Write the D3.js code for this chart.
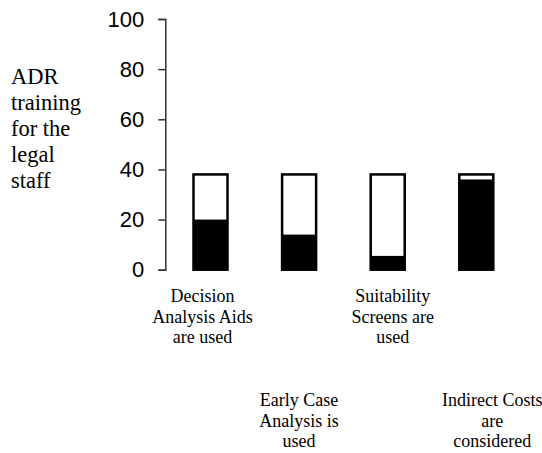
<!DOCTYPE html>
<html>
<head>
<meta charset="utf-8">
<script src="https://cdn.jsdelivr.net/npm/d3@7"></script>
<style>
  body { margin: 0; background: #fff; }
</style>
</head>
<body>
<div id="chart"></div>
<script>
// 데이터
const categories = [
    ['Decision', 'Analysis Aids', 'are used'],
    ['Early Case', 'Analysis is', 'used'],
    ['Suitability', 'Screens are', 'used'],
    ['Indirect Costs', 'are', 'considered']
];
const totalValues = [38, 38, 38, 38];
const yesValues = [20, 14, 5.5, 36];
const yTicks = [0, 20, 40, 60, 80, 100];
const titleLines = ['ADR', 'training', 'for the', 'legal', 'staff'];

// SVG 설정
const width = 542;
const height = 453;

const svg = d3.select('#chart')
    .append('svg')
    .attr('width', width)
    .attr('height', height);

const y = d3.scaleLinear().domain([0, 100]).range([269.7, 19]);
const x = d3.scalePoint()
    .domain(d3.range(categories.length))
    .range([166.2, 520.6])
    .padding(0.5);
const barW = 34;

// y축
const yAxis = svg.append('g')
    .attr('transform', 'translate(165.3,0)')
    .call(d3.axisLeft(y).tickValues(yTicks).tickSize(7).tickPadding(14));
yAxis.select('.domain').attr('stroke', '#333').attr('stroke-width', 1.5);
yAxis.selectAll('.tick line').attr('stroke', '#333').attr('stroke-width', 1.5);
yAxis.selectAll('.tick text')
    .style('font-family', '"Liberation Sans", Arial, sans-serif')
    .style('font-size', '22px')
    .attr('fill', '#000');

// 막대 (흰색 전체 + 검은색 부분)
const bars = svg.selectAll('.bar')
    .data(categories.map((c, i) => ({ i, total: totalValues[i], yes: yesValues[i] })))
    .enter()
    .append('g')
    .attr('class', 'bar');

bars.append('rect')
    .attr('x', d => x(d.i) - barW / 2)
    .attr('y', d => y(d.yes))
    .attr('width', barW)
    .attr('height', d => y(0) - y(d.yes))
    .attr('fill', '#000');

bars.append('rect')
    .attr('x', d => x(d.i) - barW / 2)
    .attr('y', d => y(d.total))
    .attr('width', barW)
    .attr('height', d => y(0) - y(d.total))
    .attr('fill', 'none')
    .attr('stroke', '#000')
    .attr('stroke-width', 2.5);

// 카테고리 라벨 (두 줄로 번갈아 배치)
const labelNudge = [-8, 0, 5, 16];
const rowTop = [302, 406];
categories.forEach((lines, i) => {
    const t = svg.append('text')
        .attr('text-anchor', 'middle')
        .style('font-family', '"Liberation Serif", "Times New Roman", serif')
        .style('font-size', '18px')
        .attr('fill', '#000');
    lines.forEach((line, k) => {
        t.append('tspan')
            .attr('x', x(i) + labelNudge[i])
            .attr('y', rowTop[i % 2] + k * 20.7)
            .text(line);
    });
});

// 왼쪽 제목
const title = svg.append('text')
    .style('font-family', '"Liberation Serif", "Times New Roman", serif')
    .style('font-size', '22.5px')
    .attr('fill', '#000');
titleLines.forEach((line, k) => {
    title.append('tspan')
        .attr('x', 11)
        .attr('y', 84 + k * 26)
        .text(line);
});
</script>
</body>
</html>
